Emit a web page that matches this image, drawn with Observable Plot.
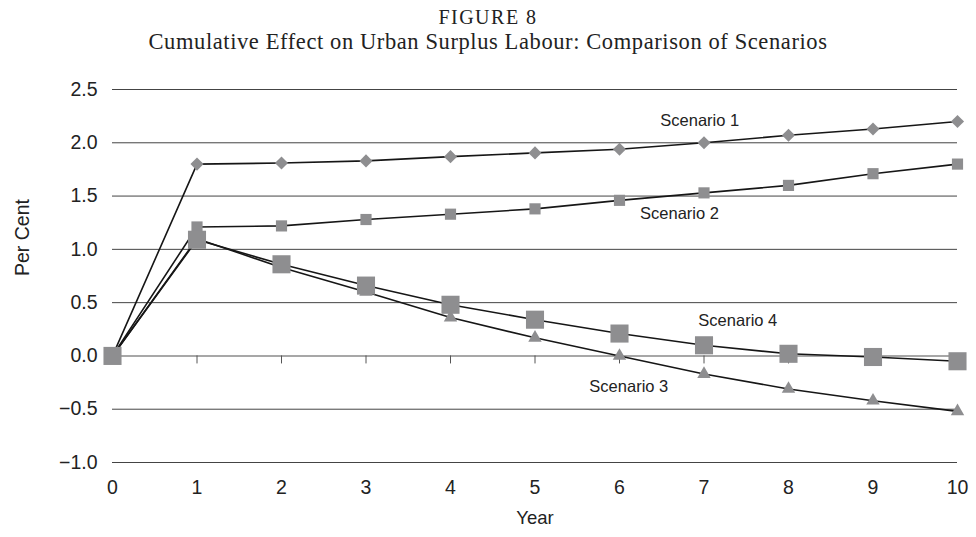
<!DOCTYPE html>
<html>
<head>
<meta charset="utf-8">
<script src="https://cdn.jsdelivr.net/npm/d3@7"></script>
<script src="https://cdn.jsdelivr.net/npm/@observablehq/plot@0.6"></script>
<style>
  html, body { margin: 0; padding: 0; background: #fff; }
  #wrap { position: relative; width: 976px; height: 537px; }
  .t { position: absolute; left: 0; width: 976px; text-align: center;
       font-family: "Liberation Serif", "Times New Roman", serif; color: #222; z-index: 2; }
  #fig { top: 6px; font-size: 20px; letter-spacing: 1.5px; }
  #sub { top: 29px; font-size: 22.5px; letter-spacing: 0.6px; }
  #chart { position: absolute; left: 0; top: 0; z-index: 1; }
</style>
</head>
<body>
<div id="wrap">
  <div id="chart"></div>
  <div class="t" id="fig">FIGURE 8</div>
  <div class="t" id="sub">Cumulative Effect on Urban Surplus Labour: Comparison of Scenarios</div>
</div>
<script>
// Years after the policy change
const years = [0, 1, 2, 3, 4, 5, 6, 7, 8, 9, 10];

// Cumulative effect on urban surplus labour, per cent
const scenario1 = [0, 1.80, 1.81, 1.83, 1.87, 1.905, 1.94, 2.00, 2.07, 2.13, 2.20];
const scenario2 = [0, 1.21, 1.22, 1.28, 1.33, 1.38, 1.46, 1.53, 1.60, 1.71, 1.80];
const scenario3 = [0, 1.10, 0.83, 0.60, 0.36, 0.17, 0.00, -0.17, -0.31, -0.42, -0.52];
const scenario4 = [0, 1.09, 0.86, 0.66, 0.48, 0.34, 0.21, 0.10, 0.02, -0.01, -0.05];

// Axis ticks
const yTicks = [-1.0, -0.5, 0.0, 0.5, 1.0, 1.5, 2.0, 2.5];
const xTicks = years;

// Series labels and where they sit (year, per cent)
const labelNames = ["Scenario 1", "Scenario 2", "Scenario 3", "Scenario 4"];
const labelYears = [6.95, 6.71, 6.11, 7.40];
const labelValues = [2.21, 1.335, -0.29, 0.33];

const series = [
  {name: "Scenario 1", values: scenario1},
  {name: "Scenario 2", values: scenario2},
  {name: "Scenario 3", values: scenario3},
  {name: "Scenario 4", values: scenario4}
];
const rows = series.flatMap(s => s.values.map((v, i) => ({scenario: s.name, year: years[i], value: v})));
const of = name => rows.filter(d => d.scenario === name);
const labels = labelNames.map((n, i) => ({name: n, year: labelYears[i], value: labelValues[i]}));

const markerFill = "#8e8e90";
const fmt = d3.format(".1f");

const chart = Plot.plot({
  width: 976,
  height: 537,
  marginTop: 89,
  marginBottom: 75,
  marginLeft: 112,
  marginRight: 19,
  style: {fontFamily: "'Liberation Sans', Arial, sans-serif", color: "#222", background: "transparent"},
  x: {domain: [0, 10]},
  y: {domain: [-1, 2.5]},
  marks: [
    Plot.ruleY(yTicks.filter(d => d !== 0), {stroke: "#444", strokeWidth: 1}),
    Plot.ruleY([0], {stroke: "#8a8a8a", strokeWidth: 1.5}),
    Plot.ruleX(xTicks, {x: d => d, y1: 0, y2: 0, insetBottom: -8, stroke: "#555", strokeWidth: 1}),
    Plot.axisY({ticks: yTicks, tickSize: 0, tickPadding: 15, fontSize: 19.5, tickFormat: fmt, label: null,
                style: {letterSpacing: "1.5px"}}),
    Plot.axisX({ticks: xTicks, tickSize: 0, tickPadding: 18, fontSize: 19.5, label: null,
                style: {letterSpacing: "1px"}}),
    Plot.text(["Per Cent"], {frameAnchor: "left", dx: -90, rotate: -90, fontSize: 19.5, fill: "#222"}),
    Plot.text(["Year"], {frameAnchor: "bottom", dy: 61, fontSize: 18.5, fill: "#222"}),
    Plot.line(rows, {x: "year", y: "value", z: "scenario", stroke: "#161616", strokeWidth: 1.6}),
    Plot.dot(of("Scenario 1"), {x: "year", y: "value", symbol: "diamond2", r: 5.9, fill: markerFill, stroke: null}),
    Plot.dot(of("Scenario 2"), {x: "year", y: "value", symbol: "square", r: 6.3, fill: markerFill, stroke: null}),
    Plot.dot(of("Scenario 3"), {x: "year", y: "value", symbol: "triangle", r: 5.0, fill: markerFill, stroke: null}),
    Plot.dot(of("Scenario 4"), {x: "year", y: "value", symbol: "square", r: 10.2, fill: markerFill, stroke: null}),
    Plot.text(labels, {x: "year", y: "value", text: "name", fontSize: 16.5, fill: "#222"})
  ]
});
document.getElementById("chart").appendChild(chart);
</script>
</body>
</html>
